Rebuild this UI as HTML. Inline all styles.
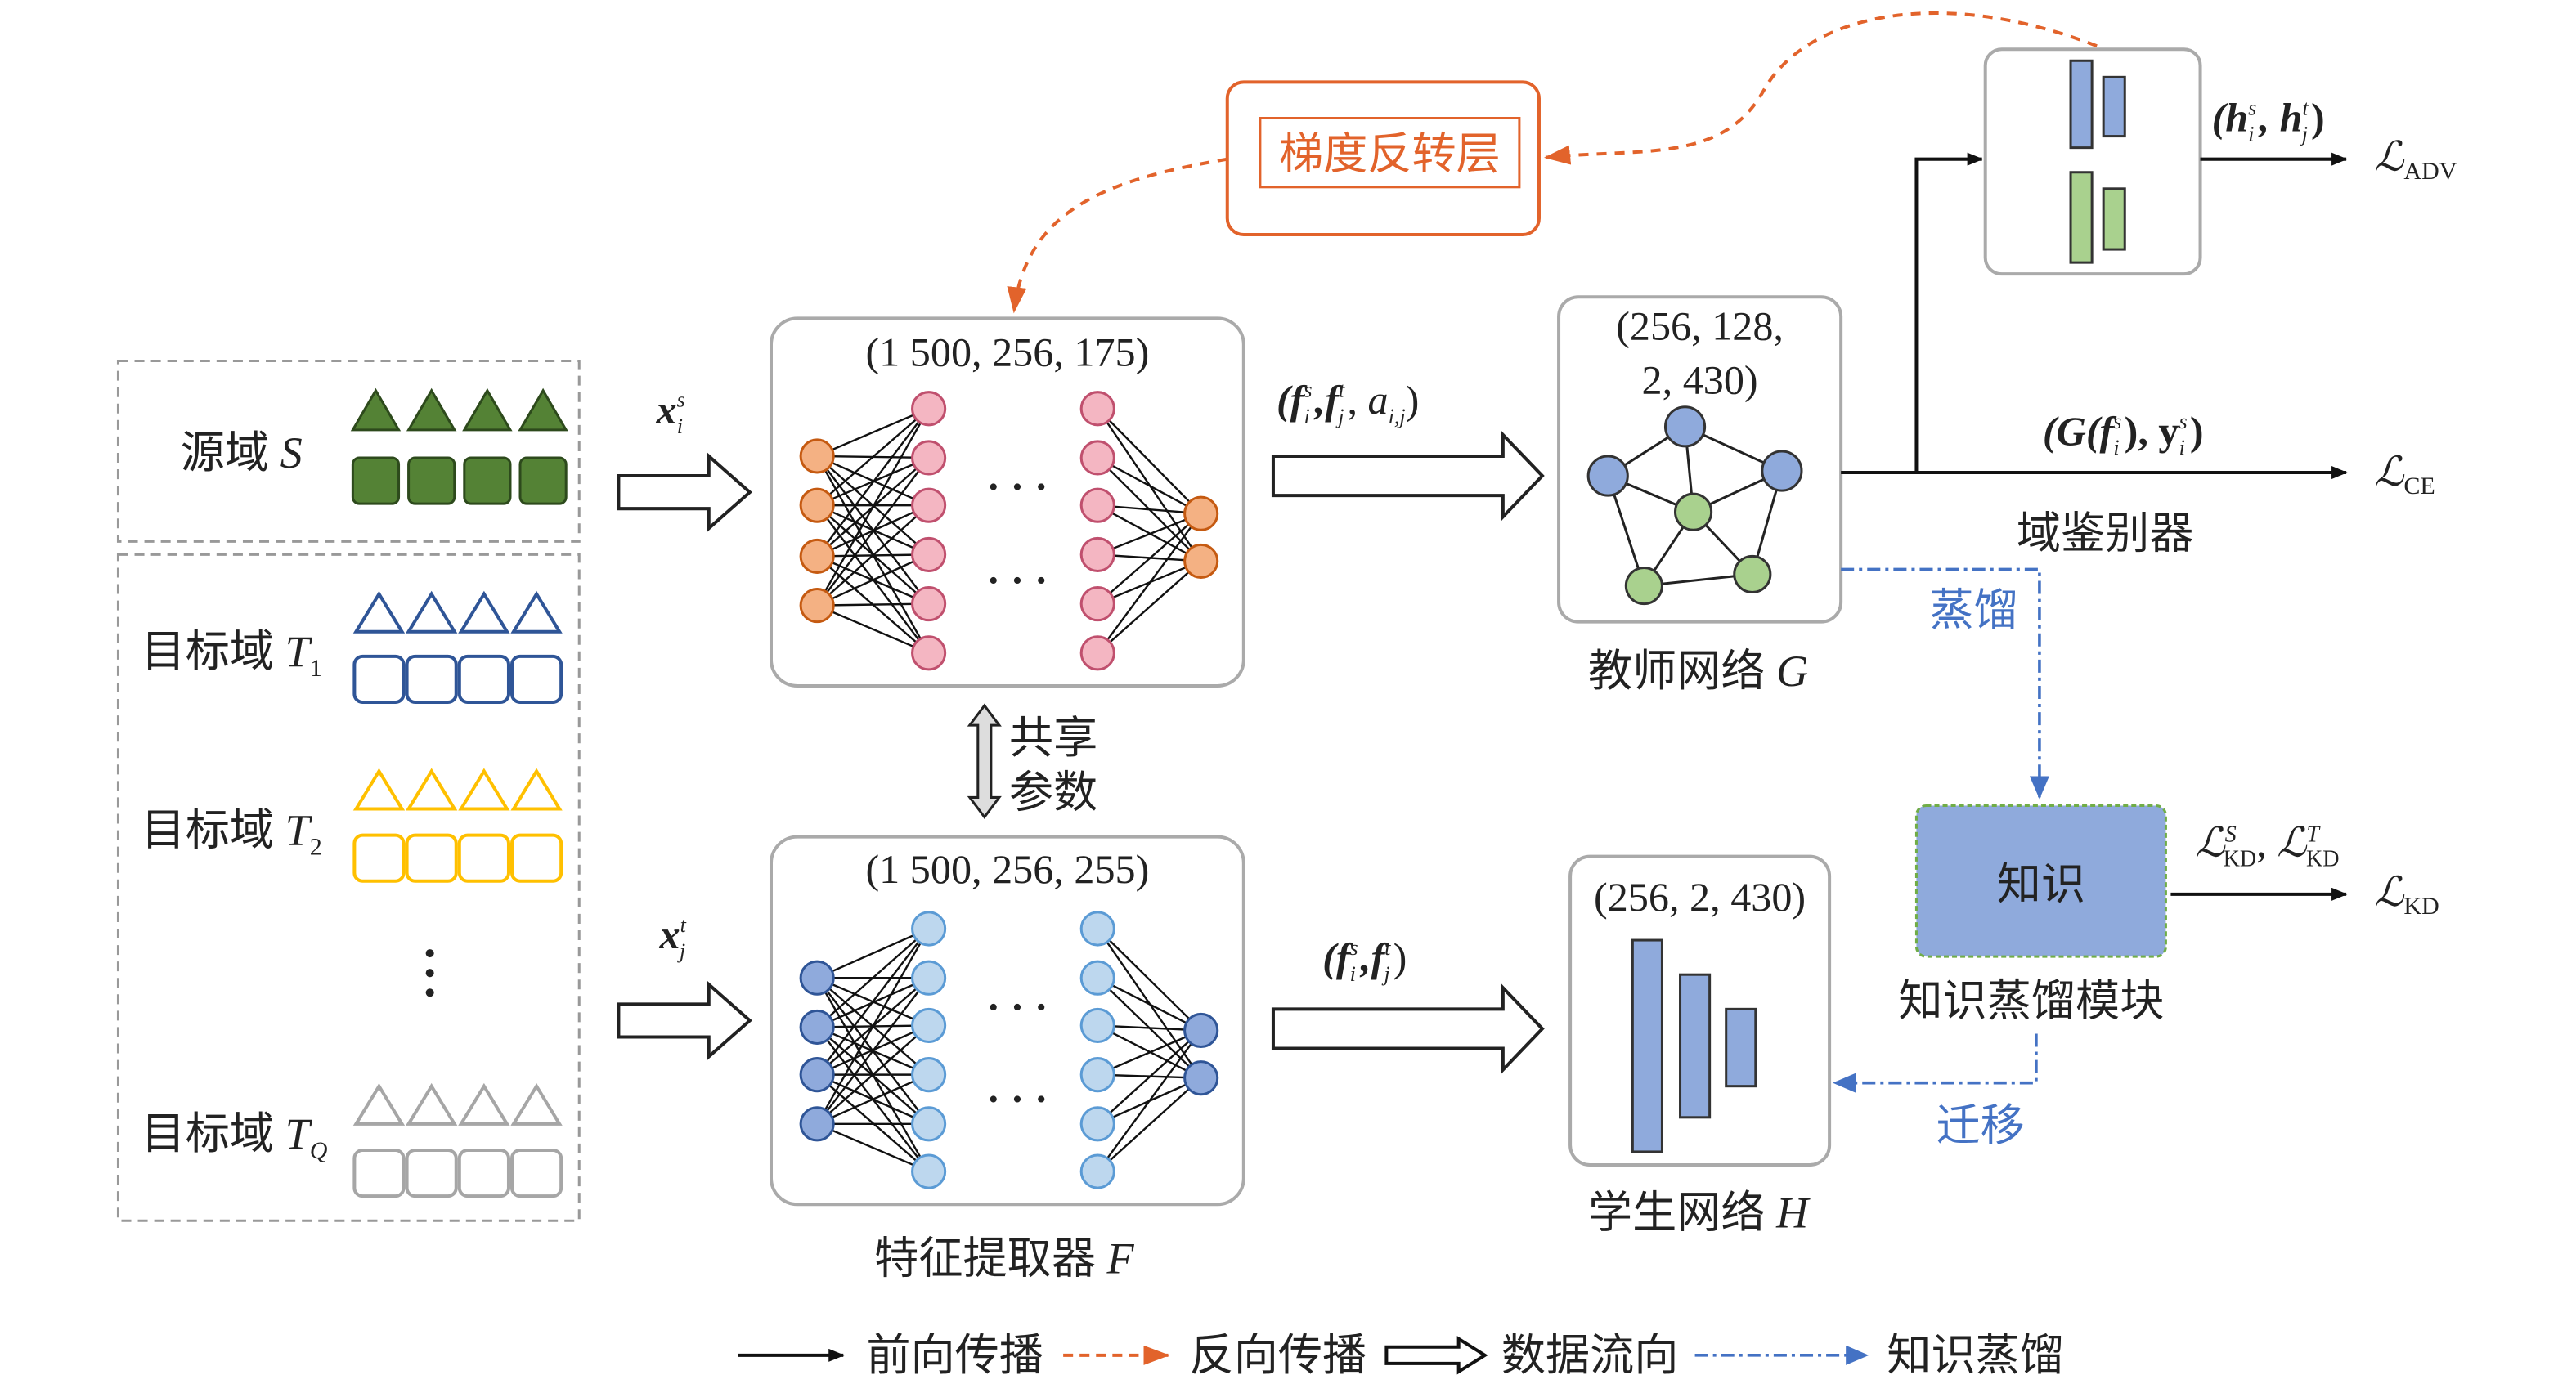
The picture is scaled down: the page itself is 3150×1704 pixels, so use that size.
<!DOCTYPE html>
<html><head><meta charset="utf-8"><style>
html,body{margin:0;padding:0;background:#fff}
svg{display:block}
text{font-family:"Liberation Serif","Noto Serif CJK SC","Noto Sans CJK SC",serif;fill:#222}
.cn{font-family:"Liberation Serif","Noto Sans CJK SC",sans-serif;font-size:27px}
.m{font-family:"Liberation Serif",serif;font-size:25px}
.i{font-style:italic}
</style></head><body>
<svg id="s" width="3150" height="1704" viewBox="0 0 1570 849" preserveAspectRatio="none" xmlns="http://www.w3.org/2000/svg">
<defs>
<marker id="ab" markerWidth="10" markerHeight="8" refX="9" refY="4" orient="auto" markerUnits="userSpaceOnUse"><path d="M0,0 L14,4 L0,8 Z" fill="#111" transform="scale(0.7,1)"/></marker>
<marker id="ao" markerWidth="16" markerHeight="12" refX="15" refY="6" orient="auto" markerUnits="userSpaceOnUse"><path d="M0,0 L16,6 L0,12 Z" fill="#e2632b"/></marker>
<marker id="au" markerWidth="14" markerHeight="12" refX="13" refY="6" orient="auto" markerUnits="userSpaceOnUse"><path d="M0,0 L14,6 L0,12 Z" fill="#4472c4"/></marker>
</defs>

<rect x="72" y="220" width="281" height="110" fill="none" stroke="#999" stroke-width="1.5" stroke-dasharray="6,4"/>
<rect x="72" y="338" width="281" height="406" fill="none" stroke="#999" stroke-width="1.5" stroke-dasharray="6,4"/>
<text class="cn" x="110" y="285">源域 <tspan class="i">S</tspan></text>
<text class="cn" x="86" y="406">目标域 <tspan class="i">T</tspan><tspan font-size="15" dy="6">1</tspan></text>
<text class="cn" x="86" y="515">目标域 <tspan class="i">T</tspan><tspan font-size="15" dy="6">2</tspan></text>
<text class="cn" x="86" y="700">目标域 <tspan class="i">T</tspan><tspan font-size="15" dy="6" class="i">Q</tspan></text>
<g id="shapes"></g>
<circle cx="262" cy="581" r="2.5" fill="#222"/><circle cx="262" cy="593" r="2.5" fill="#222"/><circle cx="262" cy="605" r="2.5" fill="#222"/>

<g fill="#fff" stroke="#222" stroke-width="2">
<path d="M377,290 h55 v-12 l25,22 l-25,22 v-12 h-55 z"/>
<path d="M377,612 h55 v-12 l25,22 l-25,22 v-12 h-55 z"/>
<path d="M776,278 h140 v-13 l24,25 l-24,25 v-13 h-140 z"/>
<path d="M776,615 h140 v-13 l24,25 l-24,25 v-13 h-140 z"/>
</g>
<text class="m" x="400" y="258"><tspan class="i" font-weight="bold">x</tspan><tspan font-size="13" dy="-10" class="i">s</tspan><tspan font-size="13" dx="-5" dy="16" class="i">i</tspan></text>
<text class="m" x="402" y="578"><tspan class="i" font-weight="bold">x</tspan><tspan font-size="13" dy="-10" class="i">t</tspan><tspan font-size="13" dx="-4" dy="16" class="i">j</tspan></text>

<rect x="470" y="194" width="288" height="224" rx="16" fill="#fff" stroke="#aaa" stroke-width="2"/>
<rect x="470" y="510" width="288" height="224" rx="16" fill="#fff" stroke="#aaa" stroke-width="2"/>
<text class="m" x="614" y="223" text-anchor="middle">(1 500, 256, 175)</text>
<text class="m" x="614" y="538" text-anchor="middle">(1 500, 256, 255)</text>
<g id="nets"></g>
<text class="m" x="620" y="305" text-anchor="middle" font-weight="bold">· · ·</text>
<text class="m" x="620" y="362" text-anchor="middle" font-weight="bold">· · ·</text>
<text class="m" x="620" y="622" text-anchor="middle" font-weight="bold">· · ·</text>
<text class="m" x="620" y="678" text-anchor="middle" font-weight="bold">· · ·</text>
<text class="cn" x="612" y="776" text-anchor="middle">特征提取器 <tspan class="i">F</tspan></text>

<path d="M600,430 l-9,12 h5 v44 h-5 l9,12 l9,-12 h-5 v-44 h5 z" fill="#ddd" stroke="#222" stroke-width="1.5"/>
<text class="cn" x="615" y="459">共享</text>
<text class="cn" x="615" y="492">参数</text>

<text class="m" x="778" y="252"><tspan class="i" font-weight="bold">(f</tspan><tspan font-size="13" dy="-10" class="i">s</tspan><tspan font-size="13" dx="-5" dy="16" class="i">i</tspan><tspan dx="3" dy="-6" class="i" font-weight="bold">,f</tspan><tspan font-size="13" dy="-10" class="i">t</tspan><tspan font-size="13" dx="-4" dy="16" class="i">j</tspan><tspan dx="2" dy="-6">, </tspan><tspan class="i">a</tspan><tspan font-size="13" dy="6" class="i">i,j</tspan><tspan dy="-6">)</tspan></text>
<text class="m" x="806" y="592"><tspan class="i" font-weight="bold">(f</tspan><tspan font-size="13" dy="-10" class="i">s</tspan><tspan font-size="13" dx="-5" dy="16" class="i">i</tspan><tspan dx="3" dy="-6" class="i" font-weight="bold">,f</tspan><tspan font-size="13" dy="-10" class="i">t</tspan><tspan font-size="13" dx="-4" dy="16" class="i">j</tspan><tspan dx="2" dy="-6">)</tspan></text>

<rect x="950" y="181" width="172" height="198" rx="12" fill="#fff" stroke="#aaa" stroke-width="2"/>
<text class="m" x="1036" y="207" text-anchor="middle">(256, 128,</text>
<text class="m" x="1036" y="240" text-anchor="middle">2, 430)</text>
<g stroke="#222" stroke-width="1.5" fill="none">
<path d="M1027,260 L980,290 L1002,357 L1068,350 L1086,287 Z"/>
<path d="M1027,260 L1032,312 L980,290 M1032,312 L1086,287 M1032,312 L1002,357 M1032,312 L1068,350"/>
</g>
<g stroke="#333" stroke-width="1.5">
<circle cx="1027" cy="260" r="12" fill="#8faadc"/><circle cx="980" cy="290" r="12" fill="#8faadc"/><circle cx="1086" cy="287" r="12" fill="#8faadc"/>
<circle cx="1032" cy="312" r="11" fill="#a9d18e"/><circle cx="1002" cy="357" r="11" fill="#a9d18e"/><circle cx="1068" cy="350" r="11" fill="#a9d18e"/>
</g>
<text class="cn" x="1035" y="418" text-anchor="middle">教师网络 <tspan class="i">G</tspan></text>

<rect x="957" y="522" width="158" height="188" rx="12" fill="#fff" stroke="#aaa" stroke-width="2"/>
<text class="m" x="1036" y="555" text-anchor="middle">(256, 2, 430)</text>
<g fill="#8faadc" stroke="#333" stroke-width="1.5">
<rect x="995" y="573" width="18" height="129"/><rect x="1024" y="594" width="18" height="87"/><rect x="1052" y="615" width="18" height="47"/>
</g>
<text class="cn" x="1035" y="748" text-anchor="middle">学生网络 <tspan class="i">H</tspan></text>

<rect x="748" y="50" width="190" height="93" rx="10" fill="#fff" stroke="#e2632b" stroke-width="2"/>
<rect x="768" y="72" width="158" height="42" fill="#fff" stroke="#e2632b" stroke-width="1.5"/>
<text class="cn" x="847" y="103" text-anchor="middle" style="fill:#e2632b">梯度反转层</text>
<path d="M1278,28 C1180,-10 1100,10 1075,55 C1050,100 1000,90 942,96" fill="none" stroke="#e2632b" stroke-width="2" stroke-dasharray="6,5" marker-end="url(#ao)"/>
<path d="M748,97 C670,110 625,130 618,190" fill="none" stroke="#e2632b" stroke-width="2" stroke-dasharray="6,5" marker-end="url(#ao)"/>

<rect x="1210" y="30" width="131" height="137" rx="10" fill="#fff" stroke="#aaa" stroke-width="2"/>
<g stroke="#333" stroke-width="1.5">
<rect x="1262" y="37" width="13" height="53" fill="#8faadc"/><rect x="1282" y="47" width="13" height="36" fill="#8faadc"/>
<rect x="1262" y="105" width="13" height="55" fill="#a9d18e"/><rect x="1282" y="115" width="13" height="37" fill="#a9d18e"/>
</g>
<g stroke="#111" stroke-width="2" fill="none">
<path d="M1122,288 H1430" marker-end="url(#ab)"/>
<path d="M1168,288 V97 H1208" marker-end="url(#ab)"/>
<path d="M1341,97 H1430" marker-end="url(#ab)"/>
<path d="M1323,545 H1430" marker-end="url(#ab)"/>
</g>
<text class="m" x="1348" y="80"><tspan class="i" font-weight="bold">(h</tspan><tspan font-size="13" dy="-10" class="i">s</tspan><tspan font-size="13" dx="-5" dy="16" class="i">i</tspan><tspan dx="3" dy="-6" class="i" font-weight="bold">, h</tspan><tspan font-size="13" dy="-10" class="i">t</tspan><tspan font-size="13" dx="-4" dy="16" class="i">j</tspan><tspan dx="2" dy="-6" font-weight="bold">)</tspan></text>
<text class="m" x="1447" y="104"><tspan class="i">ℒ</tspan><tspan font-size="15" dy="5">ADV</tspan></text>
<text class="m" x="1245" y="271"><tspan class="i" font-weight="bold">(G(f</tspan><tspan font-size="13" dy="-10" class="i">s</tspan><tspan font-size="13" dx="-5" dy="16" class="i">i</tspan><tspan dx="3" dy="-6" font-weight="bold">), y</tspan><tspan font-size="13" dy="-10" class="i">s</tspan><tspan font-size="13" dx="-5" dy="16" class="i">i</tspan><tspan dx="3" dy="-6" font-weight="bold">)</tspan></text>
<text class="m" x="1447" y="296"><tspan class="i">ℒ</tspan><tspan font-size="15" dy="5">CE</tspan></text>
<text class="cn" x="1283" y="334" text-anchor="middle">域鉴别器</text>

<path d="M1122,347 H1243 V486" fill="none" stroke="#4472c4" stroke-width="1.8" stroke-dasharray="8,3,2,3" marker-end="url(#au)"/>
<text class="cn" x="1203" y="381" text-anchor="middle" style="fill:#4472c4">蒸馏</text>
<rect x="1168" y="491" width="152" height="92" rx="6" fill="#8faadc" stroke="#70ad47" stroke-width="1.5" stroke-dasharray="3,2"/>
<text class="cn" x="1244" y="548" text-anchor="middle">知识</text>
<text class="cn" x="1238" y="619" text-anchor="middle">知识蒸馏模块</text>
<path d="M1241,630 V660 H1118" fill="none" stroke="#4472c4" stroke-width="1.8" stroke-dasharray="8,3,2,3" marker-end="url(#au)"/>
<text class="cn" x="1207" y="695" text-anchor="middle" style="fill:#4472c4">迁移</text>
<text class="m" x="1338" y="522"><tspan class="i">ℒ</tspan><tspan font-size="14" dy="-9" class="i">S</tspan><tspan font-size="14" dx="-8" dy="15">KD</tspan><tspan dy="-6">, </tspan><tspan class="i">ℒ</tspan><tspan font-size="14" dy="-9" class="i">T</tspan><tspan font-size="14" dx="-8" dy="15">KD</tspan></text>
<text class="m" x="1447" y="552"><tspan class="i">ℒ</tspan><tspan font-size="15" dy="5">KD</tspan></text>

<path d="M450,826 H514" stroke="#111" stroke-width="2" marker-end="url(#ab)"/>
<text class="cn" x="528" y="835">前向传播</text>
<path d="M648,826 H712" stroke="#e2632b" stroke-width="2" stroke-dasharray="6,4" marker-end="url(#ao)"/>
<text class="cn" x="725" y="835">反向传播</text>
<path d="M845,821 h44 v-5 l16,10 l-16,10 v-5 h-44 z" fill="#fff" stroke="#111" stroke-width="2"/>
<text class="cn" x="915" y="835">数据流向</text>
<path d="M1033,826 H1138" stroke="#4472c4" stroke-width="1.8" stroke-dasharray="8,3,2,3" marker-end="url(#au)"/>
<text class="cn" x="1150" y="835">知识蒸馏</text>
</svg>
<script>
var NS="http://www.w3.org/2000/svg";
function el(p,t,a){var e=document.createElementNS(NS,t);for(var k in a)e.setAttribute(k,a[k]);p.appendChild(e);return e;}
var sh=document.getElementById("shapes");
var xs=[229,263,297,331];
xs.forEach(function(x){el(sh,"path",{d:"M"+(x-14)+",262 L"+x+",238 L"+(x+14)+",262 Z",fill:"#548235",stroke:"#2d4a1c","stroke-width":1.5});
el(sh,"rect",{x:x-14,y:279,width:28,height:28,rx:4,fill:"#548235",stroke:"#2d4a1c","stroke-width":1.5});});
var rows=[[362,400,"#2f5597"],[470,509,"#ffc000"],[662,701,"#a6a6a6"]];
var xt=[231,263,295,327];
rows.forEach(function(r){xt.forEach(function(x){
el(sh,"path",{d:"M"+(x-14)+","+(r[0]+23)+" L"+x+","+r[0]+" L"+(x+14)+","+(r[0]+23)+" Z",fill:"none",stroke:r[2],"stroke-width":2});
el(sh,"rect",{x:x-15,y:r[1],width:30,height:28,rx:5,fill:"none",stroke:r[2],"stroke-width":2});});});
var nets=document.getElementById("nets");
function net(c1,c2,c3,c4,f1,s1,f2,s2){
var g=el(nets,"g",{stroke:"#111","stroke-width":1.2});
c1.forEach(function(a){c2.forEach(function(b){el(g,"line",{x1:498,y1:a,x2:566,y2:b});});});
c3.forEach(function(a){c4.forEach(function(b){el(g,"line",{x1:669,y1:a,x2:732,y2:b});});});
c1.forEach(function(y){el(nets,"circle",{cx:498,cy:y,r:10,fill:f1,stroke:s1,"stroke-width":1.5});});
c4.forEach(function(y){el(nets,"circle",{cx:732,cy:y,r:10,fill:f1,stroke:s1,"stroke-width":1.5});});
c2.forEach(function(y){el(nets,"circle",{cx:566,cy:y,r:10,fill:f2,stroke:s2,"stroke-width":1.5});});
c3.forEach(function(y){el(nets,"circle",{cx:669,cy:y,r:10,fill:f2,stroke:s2,"stroke-width":1.5});});
}
var t=[249,279,308,338,368,398];
net([278,308,339,369],t,t,[313,342],"#f4b183","#c55a11","#f4b6c2","#c0506e");
var b=[566,596,625,655,685,714];
net([596,626,655,685],b,b,[628,657],"#8faadc","#2f5597","#bdd7ee","#5b9bd5");
</script>
</body></html>
